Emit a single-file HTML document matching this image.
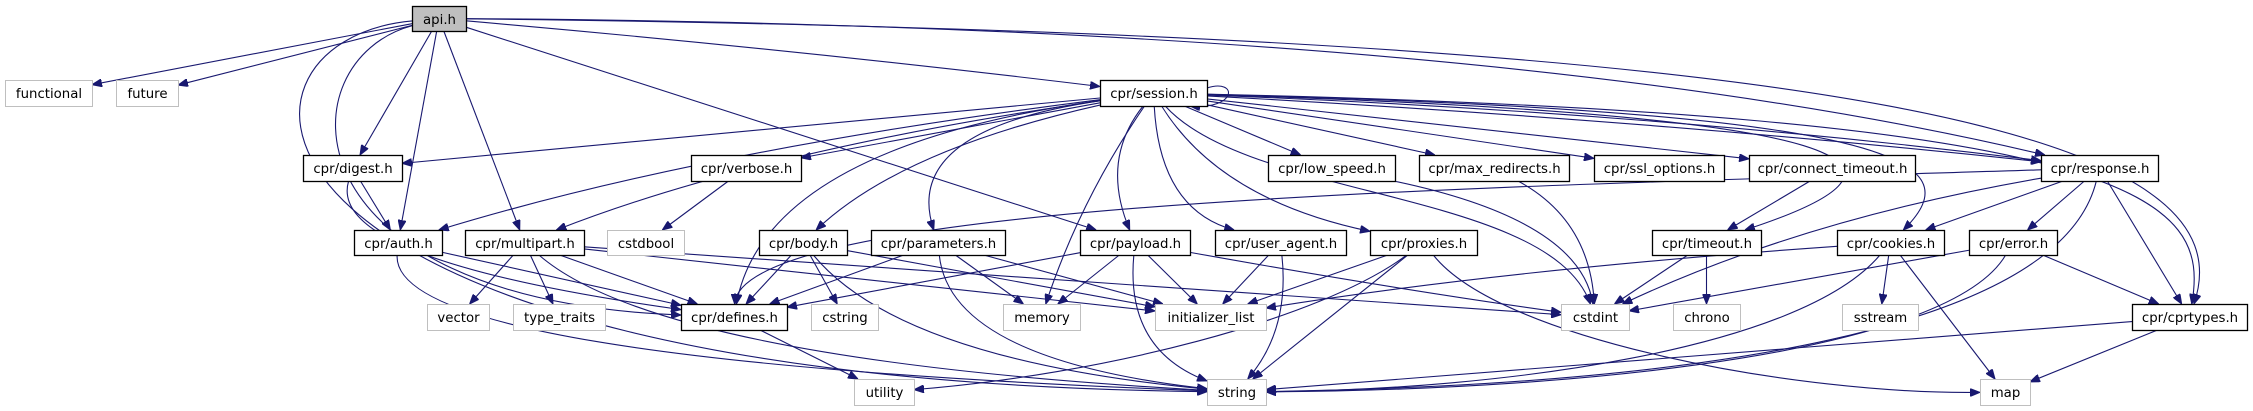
<!DOCTYPE html>
<html><head><meta charset="utf-8">
<style>
html,body{margin:0;padding:0;background:#fff;}
svg{display:block;}
text{font-family:"DejaVu Sans","Liberation Sans",sans-serif;font-size:13.3px;fill:#000;}
</style></head>
<body>
<svg id="g" width="2253" height="411" viewBox="0 0 2253 411" xmlns="http://www.w3.org/2000/svg">
<defs>
<marker id="ar" markerWidth="10" markerHeight="8" refX="10" refY="4" orient="auto" markerUnits="userSpaceOnUse">
<path d="M0,0 L10,4 L0,8 z" fill="#191970" stroke="#191970"/>
</marker>
</defs>
<g id="edges" fill="none" stroke="#191970" stroke-width="1.1"></g>
<g id="nodes"></g>
</svg>
<script>
var N={
api:[412,6,466,31,"api.h",2],
functional:[5,80,92,106,"functional",1],
future:[116,80,178,106,"future",1],
session:[1100,80,1207,106,"cpr/session.h",0],
digest:[303,155,402,181,"cpr/digest.h",0],
verbose:[691,155,801,181,"cpr/verbose.h",0],
low_speed:[1268,155,1395,181,"cpr/low_speed.h",0],
max_redirects:[1419,155,1569,181,"cpr/max_redirects.h",0],
ssl:[1594,155,1724,181,"cpr/ssl_options.h",0],
connect:[1749,155,1915,181,"cpr/connect_timeout.h",0],
response:[2041,155,2158,181,"cpr/response.h",0],
auth:[354,230,442,255,"cpr/auth.h",0],
multipart:[465,230,584,255,"cpr/multipart.h",0],
cstdbool:[607,230,684,255,"cstdbool",1],
body:[759,230,847,255,"cpr/body.h",0],
parameters:[871,230,1005,255,"cpr/parameters.h",0],
payload:[1080,230,1190,255,"cpr/payload.h",0],
user_agent:[1215,230,1346,255,"cpr/user_agent.h",0],
proxies:[1370,230,1477,255,"cpr/proxies.h",0],
timeout:[1652,230,1761,255,"cpr/timeout.h",0],
cookies:[1837,230,1944,255,"cpr/cookies.h",0],
error:[1969,230,2057,255,"cpr/error.h",0],
vector:[427,304,489,330,"vector",1],
type_traits:[513,304,605,330,"type_traits",1],
defines:[681,304,787,330,"cpr/defines.h",0],
cstring:[811,304,878,330,"cstring",1],
memory:[1003,304,1080,330,"memory",1],
init:[1155,304,1266,330,"initializer_list",1],
cstdint:[1561,304,1629,330,"cstdint",1],
chrono:[1673,304,1740,330,"chrono",1],
sstream:[1842,304,1918,330,"sstream",1],
cprtypes:[2132,304,2247,330,"cpr/cprtypes.h",0],
utility:[854,379,914,405,"utility",1],
string:[1207,379,1266,405,"string",1],
map:[1980,379,2030,405,"map",1]
};
var E=[
["api","functional"],["api","future"],
["api","string",[200,40,200,380]],
["api","defines",[285,60,280,300]],
["api","digest"],["api","auth"],["api","multipart"],["api","payload"],
["api","session",[800,50]],
["api","response",[1500,25]],
["api","cprtypes",[1900,35,2250,140]],
["session","digest"],["session","auth",[700,150]],["session","multipart",[760,150]],
["session","verbose"],["session","body",[900,150]],["session","parameters",[900,130]],
["session","memory",[1080,200]],["session","payload",[1100,160]],
["session","user_agent",[1160,210]],["session","proxies",[1220,200]],
["session","low_speed"],["session","max_redirects"],["session","ssl"],["session","connect"],
["session","response",[1650,120]],["session","response",[1650,112]],
["session","timeout",[1880,115,1945,165]],
["session","cookies",[1900,112,1975,160]],
["session","cprtypes",[2150,115,2210,200]],
["session","cstdint",[1250,200,1550,190]],
["session","defines",[820,140,750,230]],
["digest","auth"],["digest","defines",[325,260]],
["auth","defines"],["auth","string",[390,360]],
["multipart","vector"],["multipart","type_traits"],["multipart","defines"],
["multipart","string",[660,360]],["multipart","init"],["multipart","cstdint",[900,270]],
["verbose","cstdbool"],
["body","defines"],["body","cstring"],["body","string",[900,360]],["body","init"],
["parameters","defines"],["parameters","memory"],["parameters","string",[950,360]],["parameters","init"],
["payload","defines"],["payload","memory"],["payload","init"],["payload","string",[1125,350]],["payload","cstdint",[1400,290]],
["user_agent","init"],["user_agent","string",[1290,330]],
["proxies","init"],["proxies","string"],["proxies","utility",[1320,320,1100,375]],["proxies","map",[1500,340,1800,395]],
["low_speed","cstdint",[1580,220]],["max_redirects","cstdint",[1590,220]],
["connect","timeout"],
["timeout","cstdint"],["timeout","chrono"],
["response","defines",[1500,187,740,200]],
["response","cstdint",[1800,220]],
["response","cookies"],["response","error"],["response","cprtypes"],
["response","string",[2060,330,1700,385]],
["cookies","init",[1500,270]],["cookies","string",[1800,350,1500,390]],["cookies","sstream"],["cookies","map"],
["error","cstdint",[1800,280]],["error","cprtypes"],["error","string",[1950,350,1600,390]],
["cprtypes","string"],["cprtypes","map"],
["defines","utility"]
];
var NS="http://www.w3.org/2000/svg";
function ctr(b){return [(b[0]+b[2])/2,(b[1]+b[3])/2];}
function clip(b,dx,dy){var c=ctr(b),hw=(b[2]-b[0])/2,hh=(b[3]-b[1])/2;
 var t=Infinity;if(dx)t=Math.min(t,hw/Math.abs(dx));if(dy)t=Math.min(t,hh/Math.abs(dy));
 return [c[0]+dx*t,c[1]+dy*t];}
var eg=document.getElementById("edges");
E.forEach(function(e){
 var A=N[e[0]],B=N[e[1]],ca=ctr(A),cb=ctr(B),k=e[2],d;
 var f=k?[k[0],k[1]]:cb, l=k?[k[k.length-2],k[k.length-1]]:ca;
 var s=clip(A,f[0]-ca[0],f[1]-ca[1]),t=clip(B,l[0]-cb[0],l[1]-cb[1]);
 if(!k)d="M"+s+" L"+t;else if(k.length==2)d="M"+s+" Q"+k+" "+t;else d="M"+s+" C"+k[0]+","+k[1]+" "+k[2]+","+k[3]+" "+t;
 var p=document.createElementNS(NS,"path");p.setAttribute("d",d);p.setAttribute("marker-end","url(#ar)");eg.appendChild(p);
});
var lp=document.createElementNS(NS,"path");lp.setAttribute("d","M1207,88 C1238,78 1238,110 1190,106");lp.setAttribute("marker-end","url(#ar)");eg.appendChild(lp);
var ng=document.getElementById("nodes");
for(var id in N){var b=N[id];
 var r=document.createElementNS(NS,"rect");r.setAttribute("x",b[0]+0.5);r.setAttribute("y",b[1]+0.5);
 r.setAttribute("width",b[2]-b[0]);r.setAttribute("height",b[3]-b[1]);
 r.setAttribute("fill",b[5]==2?"#bfbfbf":"#fff");r.setAttribute("stroke",b[5]==1?"#bfbfbf":"#000");
 r.setAttribute("stroke-width",b[5]==1?"1":"1.3");ng.appendChild(r);
 var tx=document.createElementNS(NS,"text");tx.setAttribute("x",(b[0]+b[2])/2+0.5);tx.setAttribute("y",b[1]+18);
 tx.setAttribute("text-anchor","middle");tx.textContent=b[4];ng.appendChild(tx);}
</script>
</body></html>
